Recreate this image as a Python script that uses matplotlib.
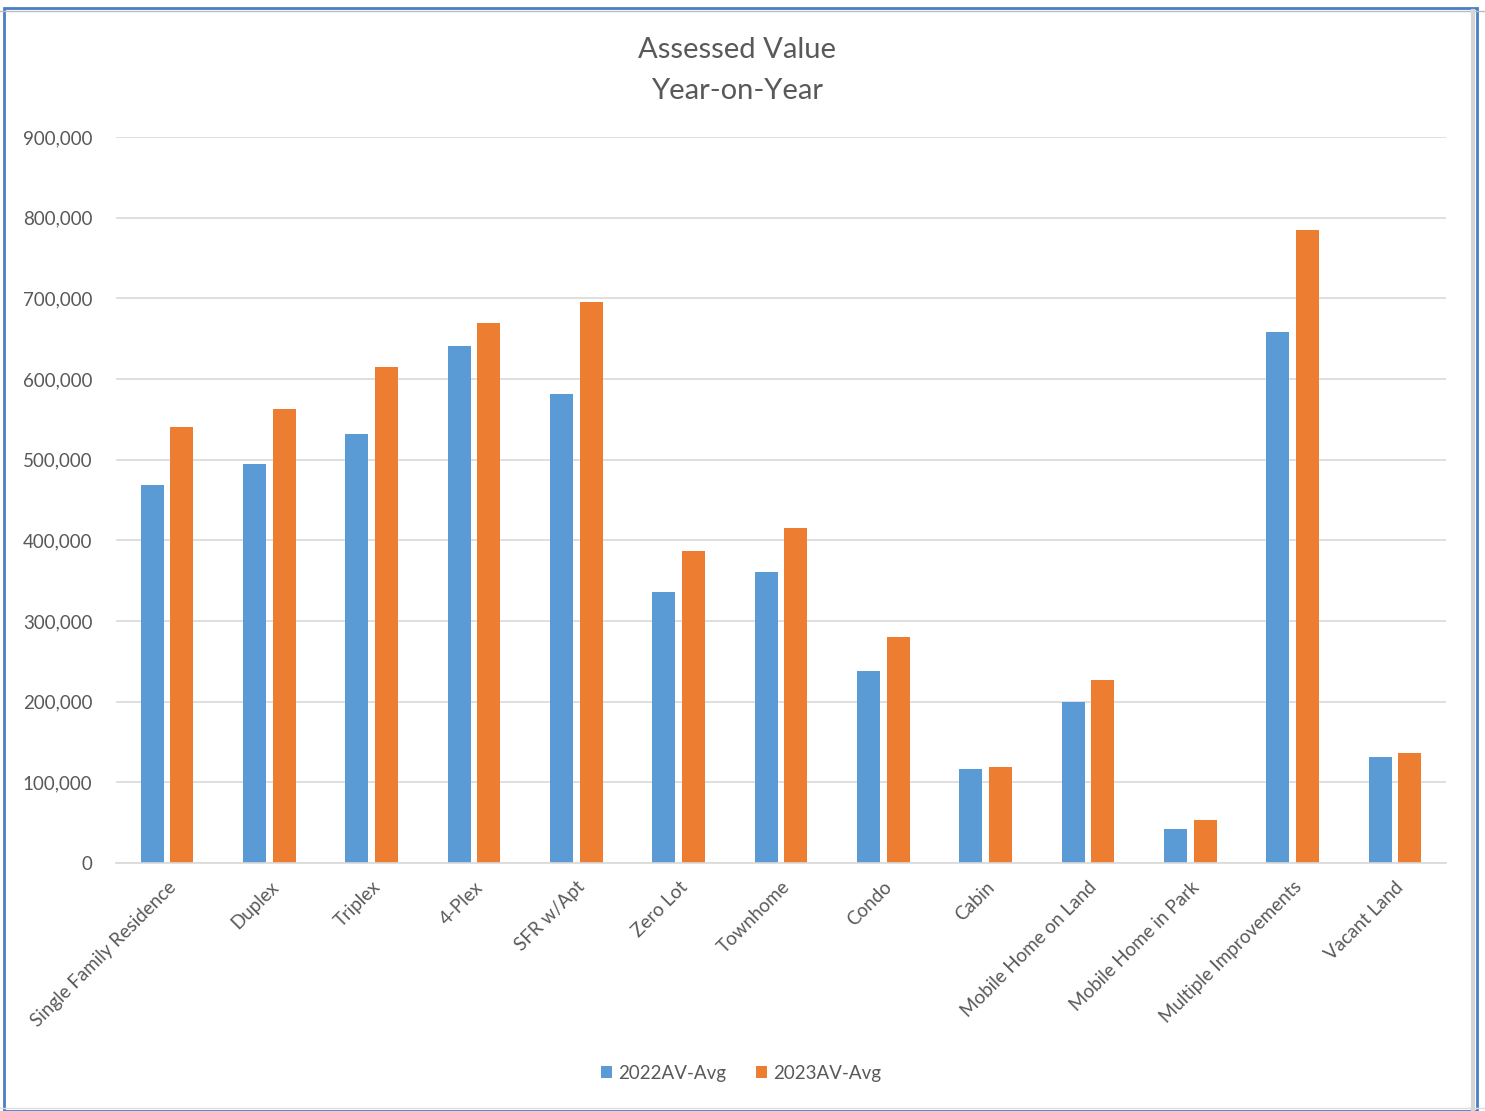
import matplotlib.pyplot as plt
import numpy as np
from matplotlib.patches import Rectangle
from matplotlib.ticker import FuncFormatter

categories = ["Single Family Residence", "Duplex", "Triplex", "4-Plex", "SFR w/Apt",
              "Zero Lot", "Townhome", "Condo", "Cabin", "Mobile Home on Land",
              "Mobile Home in Park", "Multiple Improvements", "Vacant Land"]
av_2022 = [469000, 495000, 532000, 641000, 581000, 336000, 361000,
           238000, 117000, 199000, 42000, 658000, 131000]
av_2023 = [540000, 563000, 615000, 669000, 695000, 387000, 415000,
           280000, 119000, 227000, 53000, 785000, 136000]

BLUE = "#5B9BD5"
ORANGE = "#ED7D31"
GREY = "#595959"

plt.rcParams["font.family"] = ["Lato", "DejaVu Sans"]

fig = plt.figure(figsize=(14.85, 11.11), dpi=100)
ax = fig.add_axes([116/1485, 1 - 863/1111, 1330/1485, 726/1111])

x = np.arange(len(categories))
w = 0.225
ax.bar(x - 0.145, av_2022, w, color=BLUE, label="2022AV-Avg")
ax.bar(x + 0.145, av_2023, w, color=ORANGE, label="2023AV-Avg")

ax.set_xlim(-0.5, len(categories) - 0.5)
ax.set_ylim(0, 900000)
ax.set_yticks(range(0, 900001, 100000))
ax.yaxis.set_major_formatter(FuncFormatter(lambda v, p: f"{int(v):,}"))
ax.grid(axis="y", color="#D9D9D9", lw=1.2)
ax.set_axisbelow(True)
for s in ["top", "right", "left"]:
    ax.spines[s].set_visible(False)
ax.spines["bottom"].set_color("#D9D9D9")
ax.spines["bottom"].set_linewidth(1.2)
ax.tick_params(length=0, colors=GREY, labelsize=13.5)
ax.tick_params(axis="y", pad=17)
ax.set_xticks(x)
ax.set_xticklabels(categories, rotation=45, ha="right", rotation_mode="anchor")
ax.tick_params(axis="x", pad=11)

fig.text(737/1485, 1 - 50/1111, "Assessed Value", ha="center", va="center",
         fontsize=21, color=GREY)
fig.text(737/1485, 1 - 91/1111, "Year-on-Year", ha="center", va="center",
         fontsize=21, color=GREY)

fig.legend(loc="center", bbox_to_anchor=(741/1485, 1 - 1073/1111), ncol=2,
           frameon=False, fontsize=13.5, handlelength=0.6, handleheight=0.6,
           handletextpad=0.3, columnspacing=1.6, labelcolor=GREY)

# chart frame and sheet gridlines around it
fig.patches.append(Rectangle((4/1485, 0), 1473/1485, 1 - 8/1111,
                             transform=fig.transFigure, fill=False,
                             edgecolor="#4A7EC8", lw=2))
fig.add_artist(plt.Line2D([0, 1], [1 - 11/1111] * 2, color="#BBBBBB", lw=1))
fig.add_artist(plt.Line2D([0, 1], [1 - 1108/1111] * 2, color="#DDDDDD", lw=1))
fig.add_artist(plt.Line2D([1473/1485] * 2, [0, 1 - 11/1111], color="#D5D5D5", lw=3))

fig.savefig("out.png", dpi=100)
